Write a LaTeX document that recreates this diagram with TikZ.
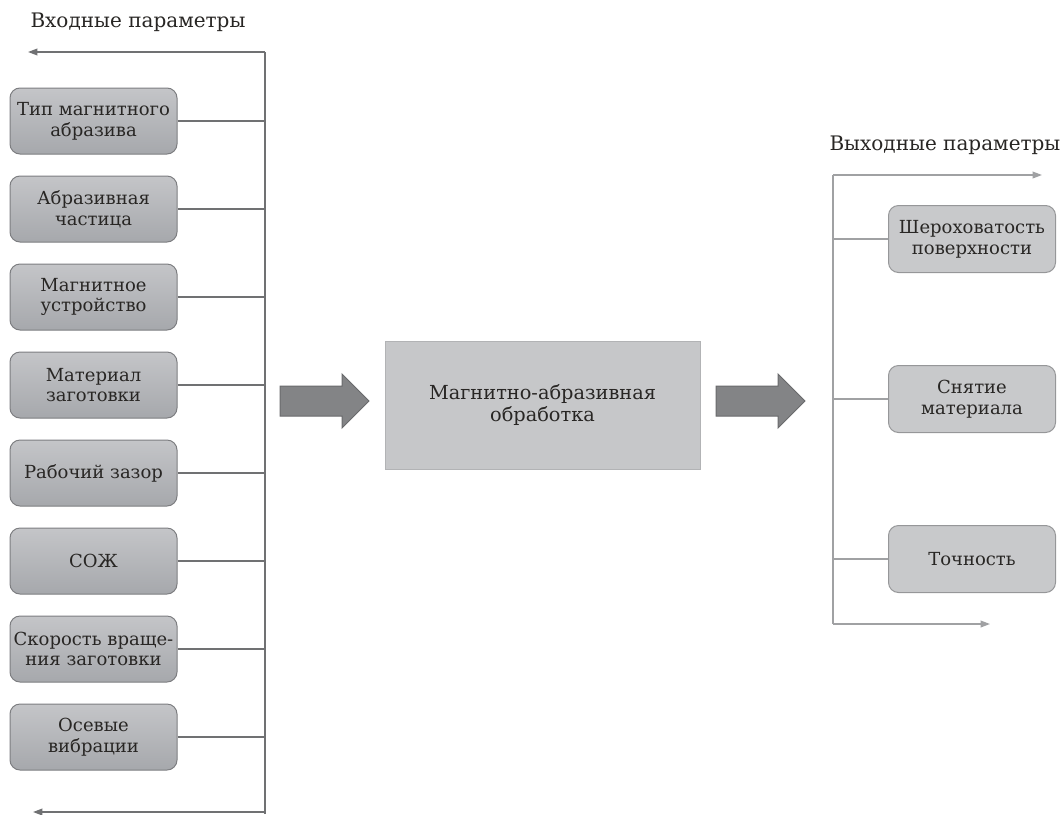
\documentclass[tikz,border=0pt]{standalone}
\usepackage{fontspec}
\setmainfont{DejaVu Serif}
\usetikzlibrary{arrows.meta}

\definecolor{inlinec}{RGB}{112,113,115}
\definecolor{outlinec}{RGB}{160,161,163}
\definecolor{inboxtop}{RGB}{196,197,200}
\definecolor{inboxbot}{RGB}{166,168,172}
\definecolor{inboxdraw}{RGB}{125,126,129}
\definecolor{outboxfill}{RGB}{200,201,203}
\definecolor{outboxdraw}{RGB}{150,151,153}
\definecolor{procfill}{RGB}{198,199,201}
\definecolor{arrfill}{RGB}{131,132,134}
\definecolor{arrdraw}{RGB}{105,106,108}
\definecolor{txt}{RGB}{40,38,36}

\tikzset{every picture/.style={line width=0.75pt}}
\tikzset{
  inbox/.style={draw=inboxdraw, top color=inboxtop, bottom color=inboxbot, rounded corners=7.5pt,
    minimum width=125.25pt, minimum height=49.5pt, align=center, inner sep=0.75pt,
    font=\fontsize{13.5}{15.5}\selectfont, text=txt},
  outbox/.style={draw=outboxdraw, fill=outboxfill, rounded corners=7.5pt,
    minimum width=125.25pt, minimum height=50.25pt, align=center, inner sep=0.75pt,
    font=\fontsize{13.5}{15.5}\selectfont, text=txt},
  procbox/.style={draw=procfill!90!black, fill=procfill, minimum width=236.25pt, minimum height=96pt,
    align=center, font=\fontsize{14.5}{17}\selectfont, text=txt},
  inline/.style={draw=inlinec, line width=1.1pt},
  outline/.style={draw=outlinec, line width=1.1pt},
  bigarrow/.style={draw=arrdraw, fill=arrfill, line width=0.75pt},
  title/.style={anchor=west, inner sep=0.75pt, font=\fontsize{15}{18}\selectfont, text=txt}
}

\begin{document}
\begin{tikzpicture}[x=0.75pt,y=0.75pt,yscale=-1,xscale=1]
\useasboundingbox (0,0) rectangle (1062,814);

% Text Node
\node [title] (intitle) at (29,22) {Входные параметры};
% Text Node
\node [title] (outtitle) at (828,145) {Выходные параметры};

% input bus
\coordinate (inTop) at (265,52);
\coordinate (inTopEnd) at (28,52);
\coordinate (inBot) at (265,814);
\coordinate (inBotTurn) at (265,812);
\coordinate (inBotEnd) at (33,812);
\draw [inline] (inBot) -- (inTop);
\draw [inline, -{Triangle[length=7pt,width=5pt]}] (inTop) -- (inTopEnd);
\draw [inline, -{Triangle[length=7pt,width=5pt]}] (inBotTurn) -- (inBotEnd);

% input parameters
\node [inbox] (type) at (93.5,121) {Тип магнитного\\абразива};
\node [inbox] (grain) at (93.5,209) {Абразивная\\частица};
\node [inbox] (device) at (93.5,297) {Магнитное\\устройство};
\node [inbox] (work) at (93.5,385) {Материал\\заготовки};
\node [inbox] (gap) at (93.5,473) {Рабочий зазор};
\node [inbox] (cool) at (93.5,561) {СОЖ};
\node [inbox] (speed) at (93.5,649) {Скорость враще-\\ния заготовки};
\node [inbox] (vib) at (93.5,737) {Осевые\\вибрации};

\draw [inline] (type.east) -- (type.east -| inTop);
\draw [inline] (grain.east) -- (grain.east -| inTop);
\draw [inline] (device.east) -- (device.east -| inTop);
\draw [inline] (work.east) -- (work.east -| inTop);
\draw [inline] (gap.east) -- (gap.east -| inTop);
\draw [inline] (cool.east) -- (cool.east -| inTop);
\draw [inline] (speed.east) -- (speed.east -| inTop);
\draw [inline] (vib.east) -- (vib.east -| inTop);

%Shape: Right Arrow
\draw [bigarrow] (280,386) -- (342,386) -- (342,374) -- (369,401) -- (342,428) -- (342,416) -- (280,416) -- cycle;
% process
\node [procbox] (proc) at (542.5,405) {Магнитно-абразивная\\обработка};
%Shape: Right Arrow
\draw [bigarrow] (716,386) -- (778,386) -- (778,374) -- (805,401) -- (778,428) -- (778,416) -- (716,416) -- cycle;

% output bus
\coordinate (outTop) at (833,175);
\coordinate (outTopEnd) at (1042,175);
\coordinate (outBot) at (833,624);
\coordinate (outBotEnd) at (990,624);
\draw [outline] (outTop) -- (outBot);
\draw [outline, -{Triangle[length=7pt,width=5pt]}] (outTop) -- (outTopEnd);
\draw [outline, -{Triangle[length=7pt,width=5pt]}] (outBot) -- (outBotEnd);

% output parameters
\node [outbox] (rough) at (972,239) {Шероховатость\\поверхности};
\node [outbox] (remov) at (972,399) {Снятие\\материала};
\node [outbox] (accur) at (972,559) {Точность};

\draw [outline] (rough.west -| outTop) -- (rough.west);
\draw [outline] (remov.west -| outTop) -- (remov.west);
\draw [outline] (accur.west -| outTop) -- (accur.west);

\end{tikzpicture}
\end{document}
